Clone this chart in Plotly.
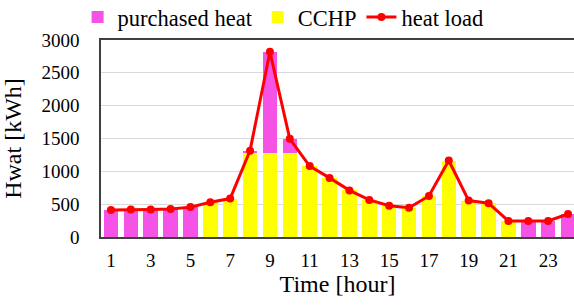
import plotly.graph_objects as go

hours = list(range(1, 25))
cchp = [0, 0, 0, 0, 0, 530, 585, 1275, 1275, 1275, 1080, 900, 710, 565, 475, 445, 625, 1165, 555, 515, 245, 0, 0, 0]
purchased = [410, 420, 420, 425, 455, 0, 0, 40, 1545, 220, 0, 0, 0, 0, 0, 0, 0, 0, 0, 0, 0, 245, 245, 350]
heat_load = [410, 420, 420, 425, 455, 530, 585, 1315, 2820, 1495, 1080, 900, 710, 565, 475, 445, 625, 1165, 555, 515, 245, 245, 245, 350]
x_ticks = [1, 3, 5, 7, 9, 11, 13, 15, 17, 19, 21, 23]
y_ticks = [0, 500, 1000, 1500, 2000, 2500, 3000]

FONT = "Liberation Serif, Times New Roman, serif"

fig = go.Figure()
fig.add_trace(go.Bar(x=hours, y=cchp, name="CCHP", marker_color="#FFFF00",
                     marker_line_width=0, legendrank=2))
fig.add_trace(go.Bar(x=hours, y=purchased, name="purchased heat", marker_color="#F553E6",
                     marker_line_width=0, legendrank=1))
fig.add_trace(go.Scatter(x=hours, y=heat_load, name="heat load", mode="lines+markers",
                         line=dict(color="#FF0000", width=3),
                         marker=dict(color="#FF0000", size=8), legendrank=3))

fig.update_layout(
    width=574, height=308,
    margin=dict(l=101, r=0, t=40, b=71, autoexpand=False),
    barmode="stack", bargap=0.27,
    plot_bgcolor="white", paper_bgcolor="white",
    font=dict(family=FONT, size=19, color="black"),
    showlegend=True,
    legend=dict(orientation="h", x=0.385, xanchor="center", y=1.115, yanchor="middle",
                font=dict(size=22.5), traceorder="normal", itemwidth=30,
                tracegroupgap=0, bgcolor="rgba(0,0,0,0)"),
)
fig.update_xaxes(range=[0.5, 24.3], tickvals=x_ticks, ticks="", ticklabelstandoff=5,
                 showline=True, linecolor="#404040", linewidth=1.5, mirror=True,
                 showgrid=False, zeroline=False,
                 title=dict(text="Time [hour]", font=dict(size=24), standoff=3),
                 tickfont=dict(size=19))
fig.update_yaxes(range=[0, 3000], tickvals=y_ticks, ticks="", ticklabelstandoff=16,
                 showline=True, linecolor="#404040", linewidth=1.5, mirror=True,
                 showgrid=True, gridcolor="#D9D9D9", gridwidth=1.2, zeroline=False,
                 title=dict(text="Hwat [kWh]", font=dict(size=24), standoff=21),
                 tickfont=dict(size=19))

fig.write_html("out.html", config={"displayModeBar": False},
               post_script="document.body.style.margin='0px';")
